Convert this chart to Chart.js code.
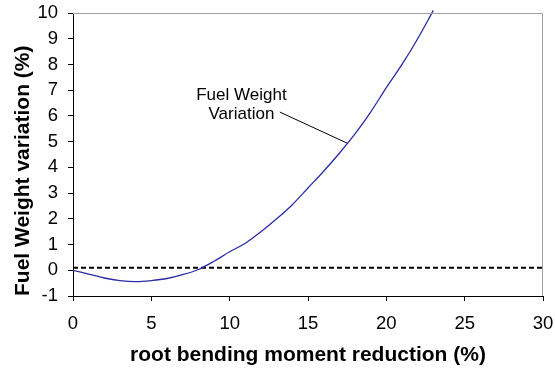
<!DOCTYPE html>
<html lang="en">
<head>
    <meta charset="UTF-8">
    <title>Fuel Weight variation</title>
    <style>
        html, body { margin: 0; padding: 0; background: #fff; }
        #wrap { width: 555px; height: 369px; }
    </style>
</head>
<body>
    <div id="wrap"><canvas id="fuelChart" width="555" height="369"></canvas></div>
    <script src="https://cdn.jsdelivr.net/npm/chart.js"></script>
    <script>

        // root bending moment reduction (%) and fuel weight variation (%)
        const reduction = [0, 1, 2, 3, 4, 5, 6, 7, 8, 9, 10, 11, 12, 13, 14, 15, 16, 17, 18, 19, 20, 21, 22, 23]
        const fuelVariation = [0, -0.15, -0.3, -0.4, -0.44, -0.4, -0.32, -0.17, 0.03, 0.35, 0.72, 1.05, 1.5, 2.0, 2.55, 3.2, 3.85, 4.55, 5.3, 6.15, 7.1, 8.0, 9.0, 10.1]

        // dashed reference line
        const refX = [0, 30]
        const refY = [0.1, 0.1]

        const xTicks = [0, 5, 10, 15, 20, 25, 30]
        const yTicks = [-1, 0, 1, 2, 3, 4, 5, 6, 7, 8, 9, 10]

        // callout label, in data units
        const calloutLines = ["Fuel Weight", "Variation"]
        const calloutText = [10.75, 6.8]
        const calloutFrom = [13.2, 6.15]
        const calloutTo = [17.5, 4.94]

        const font = "'Liberation Sans', Arial, sans-serif"

        const frame = {
            id: 'frame',
            afterDraw(chart) {
                const { ctx, chartArea: a, scales } = chart
                ctx.save()
                // grey top and right border
                ctx.strokeStyle = '#a0a0a0'
                ctx.lineWidth = 1
                ctx.beginPath()
                ctx.moveTo(a.left, a.top + 0.5)
                ctx.lineTo(a.right - 0.5, a.top + 0.5)
                ctx.lineTo(a.right - 0.5, a.bottom)
                ctx.stroke()

                // callout
                const x = scales.x, y = scales.y
                ctx.strokeStyle = '#000'
                ctx.beginPath()
                ctx.moveTo(x.getPixelForValue(calloutFrom[0]), y.getPixelForValue(calloutFrom[1]))
                ctx.lineTo(x.getPixelForValue(calloutTo[0]), y.getPixelForValue(calloutTo[1]))
                ctx.stroke()
                ctx.fillStyle = '#000'
                ctx.font = '17px ' + font
                ctx.textAlign = 'center'
                ctx.textBaseline = 'middle'
                const tx = x.getPixelForValue(calloutText[0])
                const ty = y.getPixelForValue(calloutText[1])
                calloutLines.forEach((line, i) => {
                    ctx.fillText(line, tx, ty + i * 19)
                })
                ctx.restore()
            }
        }

        const curve = reduction.map((r, i) => ({ x: r, y: fuelVariation[i] }))
        const ref = refX.map((r, i) => ({ x: r, y: refY[i] }))

        new Chart(document.getElementById('fuelChart'), {
            type: 'line',
            data: {
                datasets: [{
                    data: curve,
                    borderColor: '#2b2ba6',
                    borderWidth: 1.3,
                    pointRadius: 0,
                    cubicInterpolationMode: 'monotone',
                    clip: false
                }, {
                    data: ref,
                    borderColor: '#000',
                    borderWidth: 2,
                    borderDash: [5, 3],
                    pointRadius: 0
                }]
            },
            options: {
                responsive: false,
                animation: false,
                layout: { padding: { top: 13, right: 12, left: 0, bottom: 0 } },
                plugins: {
                    legend: { display: false },
                    tooltip: { enabled: false }
                },
                scales: {
                    x: {
                        type: 'linear',
                        min: 0,
                        max: 30,
                        afterBuildTicks: s => { s.ticks = xTicks.map(v => ({ value: v })) },
                        afterFit: s => { s.height = 73; s.paddingRight = 0; s.paddingLeft = 0 },
                        grid: { drawOnChartArea: false, drawTicks: true, tickLength: 5, color: '#000' },
                        border: { color: '#000', width: 1 },
                        ticks: { color: '#000', font: { family: font, size: 18.5 }, padding: 12, maxRotation: 0 },
                        title: {
                            display: true,
                            text: 'root bending moment reduction (%)',
                            color: '#000',
                            font: { family: font, size: 21, weight: 'bold' },
                            padding: { bottom: 1 }
                        }
                    },
                    y: {
                        min: -1,
                        max: 10,
                        afterBuildTicks: s => { s.ticks = yTicks.map(v => ({ value: v })) },
                        afterFit: s => { s.width = 73; s.paddingTop = 0; s.paddingBottom = 0 },
                        grid: { drawOnChartArea: false, drawTicks: true, tickLength: 5, color: '#000' },
                        border: { color: '#000', width: 1 },
                        ticks: { color: '#000', font: { family: font, size: 18.5 }, padding: 10 },
                        title: {
                            display: true,
                            text: 'Fuel Weight variation (%)',
                            align: 'start',
                            color: '#000',
                            font: { family: font, size: 21, weight: 'bold' },
                            padding: { top: 11 }
                        }
                    }
                }
            },
            plugins: [frame]
        })

    </script>
</body>
</html>
